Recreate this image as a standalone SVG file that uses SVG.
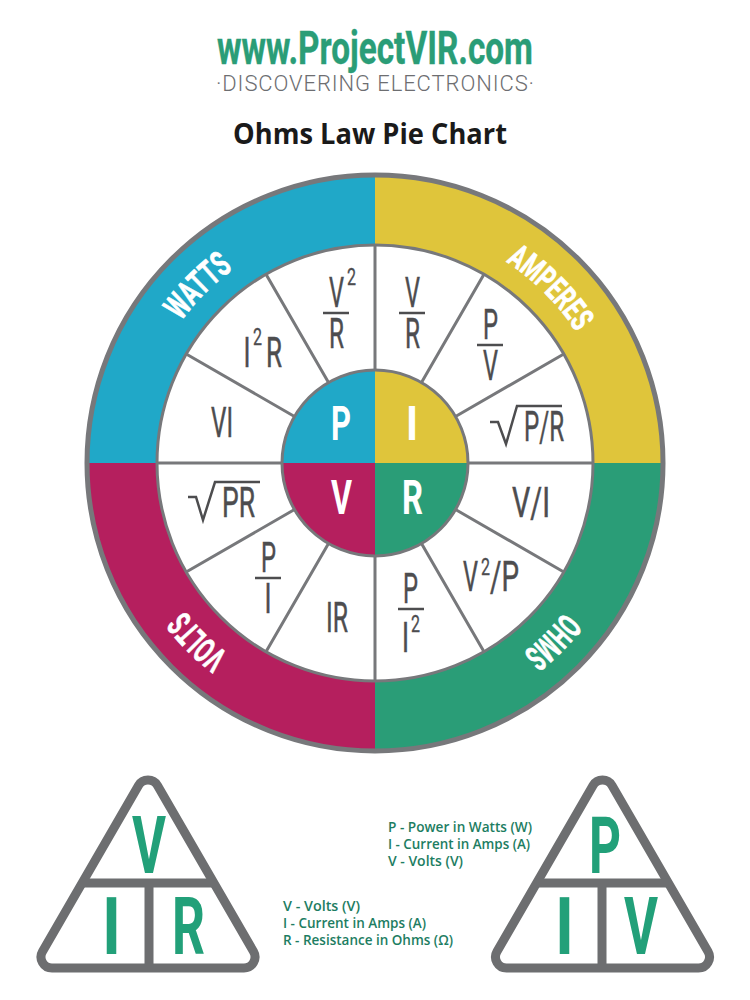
<svg xmlns="http://www.w3.org/2000/svg" width="750" height="1000" viewBox="0 0 750 1000">
<style>
.c{font-family:"Liberation Sans Narrow","Roboto","Liberation Sans",sans-serif}
.f{font-size:42px;fill:#4d4d4f;stroke:#4d4d4f;stroke-width:.5px;font-weight:400}
.s{font-size:24px;fill:#4d4d4f;stroke:#4d4d4f;stroke-width:.3px;font-weight:400}
.w{font-size:48px;fill:#fff;font-weight:700}
.r{font-size:35px;fill:#fff;stroke:#fff;stroke-width:.7px;font-weight:700}
.t{font-size:80px;fill:#22a079;font-weight:700}
.l{font-family:"Open Sans","Liberation Sans",sans-serif;font-size:14px;font-weight:600;fill:#1d7d62}
.sp{stroke:#77787b;stroke-width:3;fill:none}
.bar{stroke:#4d4d4f;stroke-width:2.5;fill:none}
.tri{stroke:#6d6e70;stroke-width:9;fill:#fff;stroke-linejoin:round}
.div{stroke:#6d6e70;stroke-width:9;fill:none}
</style>
<defs>
<path id="a1" d="M143 401A240 240 0 0 1 313 231"/>
<path id="a2" d="M437 231A240 240 0 0 1 607 401"/>
<path id="a3" d="M607 526A240 240 0 0 1 437 696"/>
<path id="a4" d="M313 696A240 240 0 0 1 143 526"/>
</defs>
<rect width="750" height="1000" fill="#fff"/>
<g id="header">
<text class="c" x="217" y="64" font-size="47" font-weight="700" fill="#2a9d77" stroke="#2a9d77" stroke-width=".4" textLength="316" lengthAdjust="spacingAndGlyphs">www.ProjectVIR.com</text>
<text class="c" x="216" y="91" font-size="22" font-weight="300" fill="#6d6e71" textLength="318">·DISCOVERING ELECTRONICS·</text>
<text x="233" y="144" font-family="Open Sans,Liberation Sans,sans-serif" font-size="28" font-weight="700" fill="#1a1a1a" textLength="274" lengthAdjust="spacingAndGlyphs">Ohms Law Pie Chart</text>
</g>
<g id="ring">
<path id="sector-watts" d="M88 463A287 287 0 0 1 375 176L375 245A218 218 0 0 0 157 463Z" fill="#20a8c8"/>
<path id="sector-amperes" d="M375 176A287 287 0 0 1 662 463L593 463A218 218 0 0 0 375 245Z" fill="#dfc53b"/>
<path id="sector-ohms" d="M662 463A287 287 0 0 1 375 750L375 681A218 218 0 0 0 593 463Z" fill="#2a9d77"/>
<path id="sector-volts" d="M375 750A287 287 0 0 1 88 463L157 463A218 218 0 0 0 375 681Z" fill="#b51f5e"/>
<circle cx="375" cy="463" r="288" fill="none" stroke="#77787b" stroke-width="5"/>
<circle cx="375" cy="463" r="218" fill="#fff" stroke="#77787b" stroke-width="3"/>
</g>
<g id="connectors">
<path class="sp" d="M375 370V245M375 556V681M282 463H157M468 463H593"/>
<path class="sp" d="M328.500 382.500L266 274.200M294.500 416.500L186.200 354M421.500 382.500L484 274.200M455.500 416.500L563.800 354M455.500 509.500L563.800 572M421.500 543.500L484 651.800M328.500 543.500L266 651.800M294.500 509.500L186.200 572"/>
</g>
<g id="hub">
<path d="M375 463V370A93 93 0 0 0 282 463Z" fill="#20a8c8"/>
<path d="M375 463V370A93 93 0 0 1 468 463Z" fill="#dfc53b"/>
<path d="M375 463H468A93 93 0 0 1 375 556Z" fill="#2a9d77"/>
<path d="M375 463H282A93 93 0 0 0 375 556Z" fill="#b51f5e"/>
<circle cx="375" cy="463" r="93" fill="none" stroke="#77787b" stroke-width="3"/>
<text class="c w" x="331" y="440" textLength="20" lengthAdjust="spacingAndGlyphs">P</text>
<text class="c w" x="406" y="440" textLength="12" lengthAdjust="spacingAndGlyphs">I</text>
<text class="c w" x="331" y="514" textLength="21" lengthAdjust="spacingAndGlyphs">V</text>
<text class="c w" x="402" y="514" textLength="21" lengthAdjust="spacingAndGlyphs">R</text>
</g>
<g id="labels">
<text class="c r" text-anchor="middle"><textPath href="#a1" startOffset="50%" textLength="74" lengthAdjust="spacingAndGlyphs">WATTS</textPath></text>
<text class="c r" text-anchor="middle" style="font-size:33px"><textPath href="#a2" startOffset="50%" textLength="100" lengthAdjust="spacingAndGlyphs">AMPERES</textPath></text>
<text class="c r" text-anchor="middle"><textPath href="#a3" startOffset="50%" textLength="58" lengthAdjust="spacingAndGlyphs">OHMS</textPath></text>
<text class="c r" text-anchor="middle"><textPath href="#a4" startOffset="50%" textLength="62" lengthAdjust="spacingAndGlyphs">VOLTS</textPath></text>
</g>
<g id="watts-formulas">
<g id="v2r"><text class="c f" x="329" y="307" textLength="15" lengthAdjust="spacingAndGlyphs">V</text><text class="c s" x="347" y="285" textLength="9" lengthAdjust="spacingAndGlyphs">2</text><path class="bar" d="M323 313H349"/><text class="c f" x="329" y="348" textLength="15" lengthAdjust="spacingAndGlyphs">R</text></g>
<g id="i2r"><text class="c f" x="243.500" y="367" textLength="7" lengthAdjust="spacingAndGlyphs">I</text><text class="c s" x="253" y="345" textLength="9" lengthAdjust="spacingAndGlyphs">2</text><text class="c f" x="266" y="367" textLength="16" lengthAdjust="spacingAndGlyphs">R</text></g>
<g id="vi"><text class="c f" x="211" y="437" textLength="22" lengthAdjust="spacingAndGlyphs">VI</text></g>
</g>
<g id="amperes-formulas">
<g id="vr"><text class="c f" x="405" y="307" textLength="15" lengthAdjust="spacingAndGlyphs">V</text><path class="bar" d="M399 313H425"/><text class="c f" x="405" y="348" textLength="15" lengthAdjust="spacingAndGlyphs">R</text></g>
<g id="pv"><text class="c f" x="483" y="339" textLength="15" lengthAdjust="spacingAndGlyphs">P</text><path class="bar" d="M477 345H503"/><text class="c f" x="483" y="380" textLength="15" lengthAdjust="spacingAndGlyphs">V</text></g>
<g id="sqrt-pr"><path class="bar" d="M490 422H498L506 444L517 406H562"/><text class="c f" x="524" y="441" textLength="40" lengthAdjust="spacingAndGlyphs">P/R</text></g>
</g>
<g id="ohms-formulas">
<g id="v-i"><text class="c f" x="512" y="517" textLength="38" lengthAdjust="spacingAndGlyphs">V/I</text></g>
<g id="v2p"><text class="c f" x="463" y="591" textLength="15" lengthAdjust="spacingAndGlyphs">V</text><text class="c s" x="481" y="575" textLength="9" lengthAdjust="spacingAndGlyphs">2</text><text class="c f" x="490" y="591" textLength="29" lengthAdjust="spacingAndGlyphs">/P</text></g>
<g id="pi2"><text class="c f" x="403" y="603" textLength="15" lengthAdjust="spacingAndGlyphs">P</text><path class="bar" d="M398 609H424"/><text class="c f" x="402" y="652" textLength="7" lengthAdjust="spacingAndGlyphs">I</text><text class="c s" x="411" y="632" textLength="9" lengthAdjust="spacingAndGlyphs">2</text></g>
</g>
<g id="volts-formulas">
<g id="sqrt-pr2"><path class="bar" d="M188 497H196L203 520L215 482H260"/><text class="c f" x="222" y="517" textLength="33" lengthAdjust="spacingAndGlyphs">PR</text></g>
<g id="p-i"><text class="c f" x="261" y="572" textLength="15" lengthAdjust="spacingAndGlyphs">P</text><path class="bar" d="M255 578H281"/><text class="c f" x="264.500" y="613" textLength="7" lengthAdjust="spacingAndGlyphs">I</text></g>
<g id="ir"><text class="c f" x="326" y="632" textLength="22" lengthAdjust="spacingAndGlyphs">IR</text></g>
</g>
<g id="triangle-vir">
<path class="tri" d="M157.500 785.500L253.500 951.500A11 11 0 0 1 244 968H52A11 11 0 0 1 42.500 951.500L138.500 785.500A11 11 0 0 1 157.500 785.500Z"/>
<path class="div" d="M82 883H214M149 883V968"/>
<text class="c t" x="132" y="873" textLength="34" lengthAdjust="spacingAndGlyphs">V</text>
<text class="c t" x="102" y="954" textLength="19" lengthAdjust="spacingAndGlyphs">I</text>
<text class="c t" x="172" y="954" textLength="33" lengthAdjust="spacingAndGlyphs">R</text>
</g>
<g id="triangle-piv">
<path class="tri" transform="translate(454.500 0)" d="M157.500 785.500L253.500 951.500A11 11 0 0 1 244 968H52A11 11 0 0 1 42.500 951.500L138.500 785.500A11 11 0 0 1 157.500 785.500Z"/>
<path class="div" d="M536.500 883H668.500M602 883V968"/>
<text class="c t" x="589" y="873" textLength="32" lengthAdjust="spacingAndGlyphs">P</text>
<text class="c t" x="555" y="954" textLength="19" lengthAdjust="spacingAndGlyphs">I</text>
<text class="c t" x="624" y="954" textLength="34" lengthAdjust="spacingAndGlyphs">V</text>
</g>
<g id="legend-piv">
<text class="l" x="388" y="832" textLength="144" lengthAdjust="spacingAndGlyphs">P - Power in Watts (W)</text>
<text class="l" x="388" y="849" textLength="142" lengthAdjust="spacingAndGlyphs">I - Current in Amps (A)</text>
<text class="l" x="388" y="866" textLength="75" lengthAdjust="spacingAndGlyphs">V - Volts (V)</text>
</g>
<g id="legend-vir">
<text class="l" x="283" y="911" textLength="77" lengthAdjust="spacingAndGlyphs">V - Volts (V)</text>
<text class="l" x="283" y="928" textLength="143" lengthAdjust="spacingAndGlyphs">I - Current in Amps (A)</text>
<text class="l" x="283" y="945" textLength="170" lengthAdjust="spacingAndGlyphs">R - Resistance in Ohms (Ω)</text>
</g>
</svg>
